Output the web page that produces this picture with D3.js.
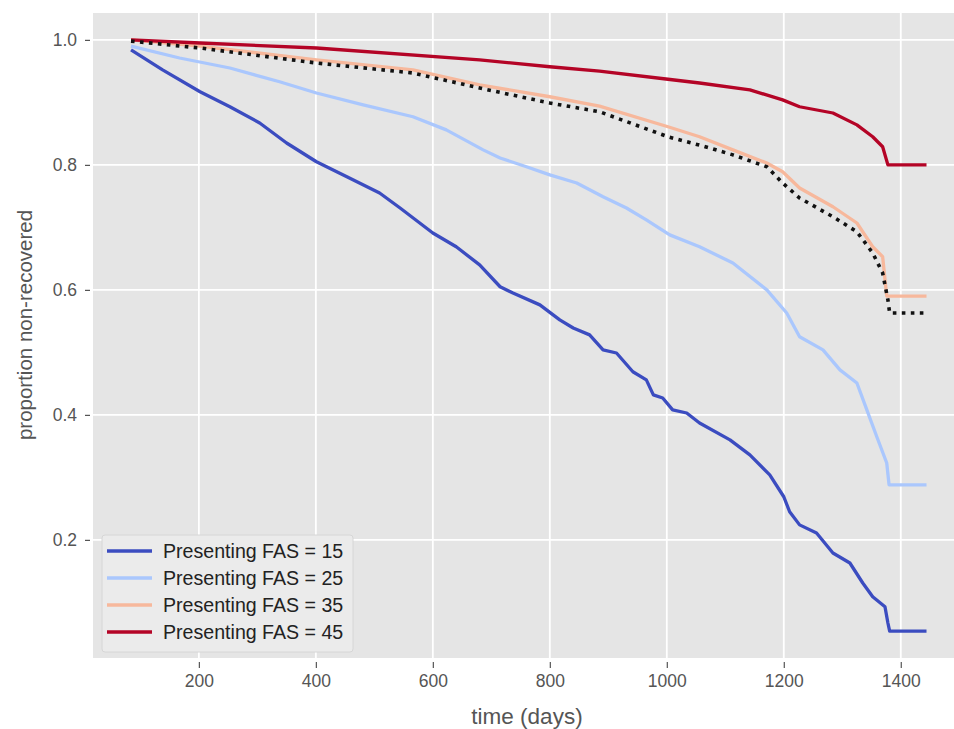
<!DOCTYPE html>
<html>
<head>
<meta charset="utf-8">
<script src="https://cdn.jsdelivr.net/npm/d3@7"></script>
<style>
  html, body { margin: 0; padding: 0; background: #ffffff; }
  svg { display: block; }
  text { font-family: "Liberation Sans", Arial, sans-serif; }
</style>
</head>
<body>
<svg id="chart" width="954" height="729"></svg>
<script>
// ---------------- data ----------------
const seriesNames = ["Presenting FAS = 15", "Presenting FAS = 25", "Presenting FAS = 35", "Presenting FAS = 45"];

const fas15Days = [84, 138, 202, 253, 304, 350, 401, 453, 509, 544, 600, 640, 680, 715, 737, 783, 817, 840, 868, 891, 914, 942, 965, 977, 993, 1010, 1034, 1056, 1108, 1142, 1176, 1200, 1210, 1227, 1256, 1284, 1313, 1335, 1352, 1373, 1378, 1381, 1444];
const fas15Vals = [0.984, 0.952, 0.917, 0.893, 0.867, 0.835, 0.805, 0.781, 0.755, 0.731, 0.691, 0.669, 0.640, 0.605, 0.595, 0.576, 0.552, 0.539, 0.528, 0.504, 0.499, 0.469, 0.456, 0.432, 0.427, 0.408, 0.403, 0.387, 0.360, 0.336, 0.304, 0.269, 0.245, 0.224, 0.211, 0.179, 0.163, 0.131, 0.109, 0.093, 0.067, 0.054, 0.054];

const fas25Days = [84, 167, 253, 338, 401, 481, 566, 623, 686, 715, 760, 800, 846, 891, 931, 965, 1005, 1056, 1113, 1171, 1205, 1227, 1267, 1296, 1325, 1342, 1359, 1376, 1380, 1444];
const fas25Vals = [0.990, 0.971, 0.955, 0.933, 0.915, 0.896, 0.877, 0.856, 0.824, 0.811, 0.797, 0.784, 0.771, 0.749, 0.731, 0.712, 0.688, 0.669, 0.643, 0.600, 0.563, 0.525, 0.504, 0.472, 0.451, 0.408, 0.365, 0.323, 0.288, 0.288];

const fas35Days = [84, 202, 401, 566, 680, 800, 885, 1002, 1056, 1113, 1171, 1198, 1227, 1284, 1325, 1352, 1369, 1376, 1444];
const fas35Vals = [1.000, 0.990, 0.968, 0.952, 0.928, 0.909, 0.894, 0.861, 0.845, 0.824, 0.803, 0.789, 0.763, 0.733, 0.707, 0.669, 0.653, 0.590, 0.590];

const fas45Days = [84, 202, 401, 680, 800, 885, 1002, 1056, 1142, 1198, 1227, 1284, 1325, 1352, 1369, 1378, 1444];
const fas45Vals = [1.000, 0.995, 0.987, 0.968, 0.957, 0.950, 0.937, 0.931, 0.920, 0.904, 0.893, 0.883, 0.864, 0.845, 0.829, 0.800, 0.800];

const baselineDays = [84, 202, 401, 566, 680, 800, 885, 1002, 1062, 1113, 1171, 1198, 1227, 1284, 1325, 1352, 1369, 1378, 1381, 1444];
const baselineVals = [0.998, 0.987, 0.963, 0.947, 0.923, 0.899, 0.885, 0.845, 0.830, 0.816, 0.797, 0.771, 0.747, 0.717, 0.693, 0.659, 0.627, 0.584, 0.563, 0.563];

const xTicks = [200, 400, 600, 800, 1000, 1200, 1400];
const yTicks = [0.2, 0.4, 0.6, 0.8, 1.0];
const xLabel = "time (days)";
const yLabel = "proportion non-recovered";

const seriesColors = ["#3b4cc0", "#aac7fd", "#f7b89c", "#b40426"];

// ---------------- layout ----------------
const svg = d3.select("#chart");
const plot = { left: 93, top: 13, right: 954, bottom: 658 };

const x = d3.scaleLinear().domain([19, 1491]).range([plot.left, plot.right]);
const y = d3.scaleLinear().domain([0.011, 1.043]).range([plot.bottom, plot.top]);

svg.append("defs").append("clipPath").attr("id", "clip")
  .append("rect").attr("x", plot.left).attr("y", plot.top)
  .attr("width", plot.right - plot.left).attr("height", plot.bottom - plot.top);

// background
svg.append("rect").attr("x", plot.left).attr("y", plot.top)
  .attr("width", plot.right - plot.left).attr("height", plot.bottom - plot.top)
  .attr("fill", "#e5e5e5");

// grid
const grid = svg.append("g").attr("clip-path", "url(#clip)");
grid.selectAll("line.gx").data(xTicks).join("line")
  .attr("x1", d => x(d)).attr("x2", d => x(d))
  .attr("y1", plot.top).attr("y2", plot.bottom)
  .attr("stroke", "#ffffff").attr("stroke-width", 1.8);
grid.selectAll("line.gy").data(yTicks).join("line")
  .attr("y1", d => y(d)).attr("y2", d => y(d))
  .attr("x1", plot.left).attr("x2", plot.right)
  .attr("stroke", "#ffffff").attr("stroke-width", 1.8);

// axes
const xAxis = d3.axisBottom(x).tickValues(xTicks).tickFormat(d3.format("d")).tickSize(6).tickPadding(7);
const gx = svg.append("g").attr("transform", `translate(0,${plot.bottom + 4})`).call(xAxis);
gx.select(".domain").remove();
gx.selectAll(".tick line").attr("stroke", "#555").attr("stroke-width", 1.2);
gx.selectAll(".tick text").attr("fill", "#555").attr("font-size", 17.5)
  .attr("font-family", "'Liberation Sans', Arial, sans-serif");

const yAxis = d3.axisLeft(y).tickValues(yTicks).tickFormat(d3.format(".1f")).tickSize(5).tickPadding(8);
const gy = svg.append("g").attr("transform", `translate(${plot.left - 3},0)`).call(yAxis);
gy.select(".domain").remove();
gy.selectAll(".tick line").attr("stroke", "#555").attr("stroke-width", 1.2);
gy.selectAll(".tick text").attr("fill", "#555").attr("font-size", 17.5)
  .attr("font-family", "'Liberation Sans', Arial, sans-serif");

// axis labels
svg.append("text").attr("x", 527).attr("y", 724)
  .attr("text-anchor", "middle").attr("fill", "#555").attr("font-size", 22.5)
  .text(xLabel);
svg.append("text").attr("transform", `translate(32,325) rotate(-90)`)
  .attr("text-anchor", "middle").attr("fill", "#555").attr("font-size", 20.5)
  .text(yLabel);

// lines
const line = d3.line().x(d => x(d[0])).y(d => y(d[1])).curve(d3.curveLinear);
const zip = (a, b) => a.map((d, i) => [d, b[i]]);
const series = [
  zip(fas15Days, fas15Vals),
  zip(fas25Days, fas25Vals),
  zip(fas35Days, fas35Vals),
  zip(fas45Days, fas45Vals)
];
const lg = svg.append("g").attr("clip-path", "url(#clip)");
series.forEach((s, i) => {
  lg.append("path").datum(s).attr("d", line)
    .attr("fill", "none").attr("stroke", seriesColors[i])
    .attr("stroke-width", 3.3).attr("stroke-linejoin", "round");
});
lg.append("path").datum(zip(baselineDays, baselineVals)).attr("d", line)
  .attr("fill", "none").attr("stroke", "#111")
  .attr("stroke-width", 3.6).attr("stroke-dasharray", "3.6 5.4");

// legend
const leg = svg.append("g");
leg.append("rect").attr("x", 102).attr("y", 535).attr("width", 251).attr("height", 117)
  .attr("rx", 3).attr("fill", "#ebebeb").attr("stroke", "#d6d6d6").attr("stroke-width", 1);
seriesNames.forEach((name, i) => {
  const yy = 551 + i * 27;
  leg.append("line").attr("x1", 107).attr("x2", 152).attr("y1", yy).attr("y2", yy)
    .attr("stroke", seriesColors[i]).attr("stroke-width", 3.3);
  leg.append("text").attr("x", 163).attr("y", yy).attr("dy", "0.35em")
    .attr("fill", "#222").attr("font-size", 19.6).text(name);
});
</script>
</body>
</html>
